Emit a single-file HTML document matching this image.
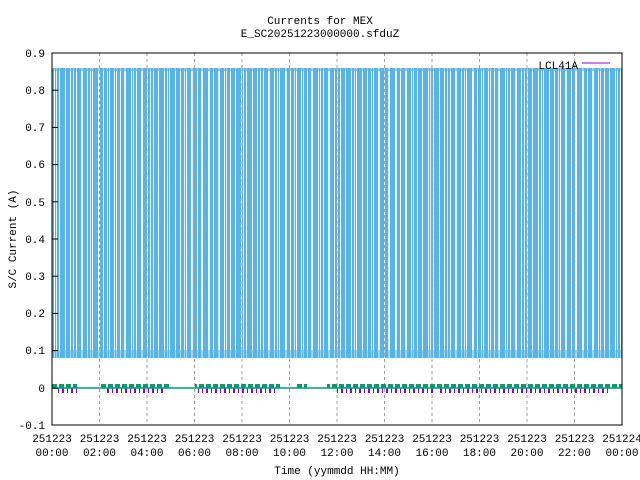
<!DOCTYPE html>
<html><head><meta charset="utf-8"><style>
html,body{margin:0;padding:0;background:#fff}
svg{display:block;font-family:"Liberation Mono",monospace;font-size:11px}
</style></head><body>
<svg width="640" height="480" viewBox="0 0 640 480" xmlns="http://www.w3.org/2000/svg">
<defs>
<pattern id="st" x="52" y="0" width="11" height="480" patternUnits="userSpaceOnUse">
<rect x="0" y="0" width="11" height="480" fill="#56b4e9"/>
<rect x="2" y="0" width="1" height="480" fill="#fff"/>
<rect x="7" y="0" width="1" height="480" fill="#fff"/>
</pattern>
<pattern id="st2" x="52" y="0" width="17" height="480" patternUnits="userSpaceOnUse">
<rect x="4" y="0" width="1" height="480" fill="#fff" opacity="0.8"/>
<rect x="13" y="0" width="1" height="480" fill="#fff" opacity="0.8"/>
</pattern>
<pattern id="pu" x="52" y="0" width="9" height="480" patternUnits="userSpaceOnUse">
<rect x="1" y="0" width="2" height="480" fill="#9400d3"/>
<rect x="6" y="0" width="1" height="480" fill="#9400d3"/>
</pattern>
<pattern id="gr" x="52" y="0" width="7" height="480" patternUnits="userSpaceOnUse">
<rect x="0" y="0" width="5" height="480" fill="#009e73"/>
</pattern>
</defs>
<text x="320" y="24" text-anchor="middle">Currents for MEX</text>
<text x="320" y="37" text-anchor="middle">E_SC20251223000000.sfduZ</text>
<rect x="52" y="68" width="570" height="290" fill="url(#st)"/>
<rect x="52" y="68" width="570" height="290" fill="url(#st2)"/>
<rect x="52" y="68" width="570" height="3" fill="#56b4e9" opacity="0.6"/>
<rect x="52" y="350" width="570" height="8" fill="#56b4e9" opacity="0.5"/>
<g stroke="#a0a0a0" stroke-dasharray="3,3" stroke-width="1">
<line x1="99.5" y1="53" x2="99.5" y2="425"/><line x1="147" y1="53" x2="147" y2="425"/>
<line x1="194.5" y1="53" x2="194.5" y2="425"/><line x1="242" y1="53" x2="242" y2="425"/>
<line x1="289.5" y1="53" x2="289.5" y2="425"/><line x1="337" y1="53" x2="337" y2="425"/>
<line x1="384.5" y1="53" x2="384.5" y2="425"/><line x1="432" y1="53" x2="432" y2="425"/>
<line x1="479.5" y1="53" x2="479.5" y2="425"/><line x1="527" y1="53" x2="527" y2="425"/>
<line x1="574.5" y1="53" x2="574.5" y2="425"/>
</g>
<g fill="url(#pu)">
<rect x="56" y="388" width="22" height="5"/>
<rect x="104" y="388" width="62" height="5"/>
<rect x="198" y="388" width="80" height="5"/>
<rect x="336" y="388" width="100" height="5"/>
<rect x="440" y="388" width="170" height="5"/>
</g>
<g fill="url(#gr)">
<rect x="52" y="384" width="25" height="4"/>
<rect x="100" y="384" width="70" height="4"/>
<rect x="195" y="384" width="85" height="4"/>
<rect x="295" y="384" width="12" height="4"/>
<rect x="327" y="384" width="295" height="4"/>
</g>
<line x1="52" y1="388" x2="622" y2="388" stroke="#009e73" stroke-width="1.5"/>
<text x="578" y="69" text-anchor="end">LCL41A</text>
<line x1="582" y1="63" x2="610" y2="63" stroke="#9400d3" stroke-width="1"/>
<rect x="52" y="53" width="570" height="372" fill="none" stroke="#000" stroke-width="1"/>
<g stroke="#000">
<line x1="52" y1="90.2" x2="58" y2="90.2"/><line x1="52" y1="127.4" x2="58" y2="127.4"/>
<line x1="52" y1="164.6" x2="58" y2="164.6"/><line x1="52" y1="201.8" x2="58" y2="201.8"/>
<line x1="52" y1="239" x2="58" y2="239"/><line x1="52" y1="276.2" x2="58" y2="276.2"/>
<line x1="52" y1="313.4" x2="58" y2="313.4"/><line x1="52" y1="350.6" x2="58" y2="350.6"/>
<line x1="52" y1="388.2" x2="58" y2="388.2"/>
</g>
<g text-anchor="end">
<text x="45" y="57">0.9</text><text x="45" y="94">0.8</text><text x="45" y="131">0.7</text>
<text x="45" y="168">0.6</text><text x="45" y="206">0.5</text><text x="45" y="243">0.4</text>
<text x="45" y="280">0.3</text><text x="45" y="317">0.2</text><text x="45" y="354">0.1</text>
<text x="45" y="392">0</text><text x="45" y="429">-0.1</text>
</g>
<g text-anchor="middle">
<text x="52" y="442">251223</text><text x="52" y="456">00:00</text>
<text x="99.5" y="442">251223</text><text x="99.5" y="456">02:00</text>
<text x="147" y="442">251223</text><text x="147" y="456">04:00</text>
<text x="194.5" y="442">251223</text><text x="194.5" y="456">06:00</text>
<text x="242" y="442">251223</text><text x="242" y="456">08:00</text>
<text x="289.5" y="442">251223</text><text x="289.5" y="456">10:00</text>
<text x="337" y="442">251223</text><text x="337" y="456">12:00</text>
<text x="384.5" y="442">251223</text><text x="384.5" y="456">14:00</text>
<text x="432" y="442">251223</text><text x="432" y="456">16:00</text>
<text x="479.5" y="442">251223</text><text x="479.5" y="456">18:00</text>
<text x="527" y="442">251223</text><text x="527" y="456">20:00</text>
<text x="574.5" y="442">251223</text><text x="574.5" y="456">22:00</text>
<text x="622" y="442">251224</text><text x="622" y="456">00:00</text>
<text x="337" y="474">Time (yymmdd HH:MM)</text>
</g>
<text x="16" y="239" text-anchor="middle" transform="rotate(-90 16 239)">S/C Current (A)</text>
</svg>
</body></html>
